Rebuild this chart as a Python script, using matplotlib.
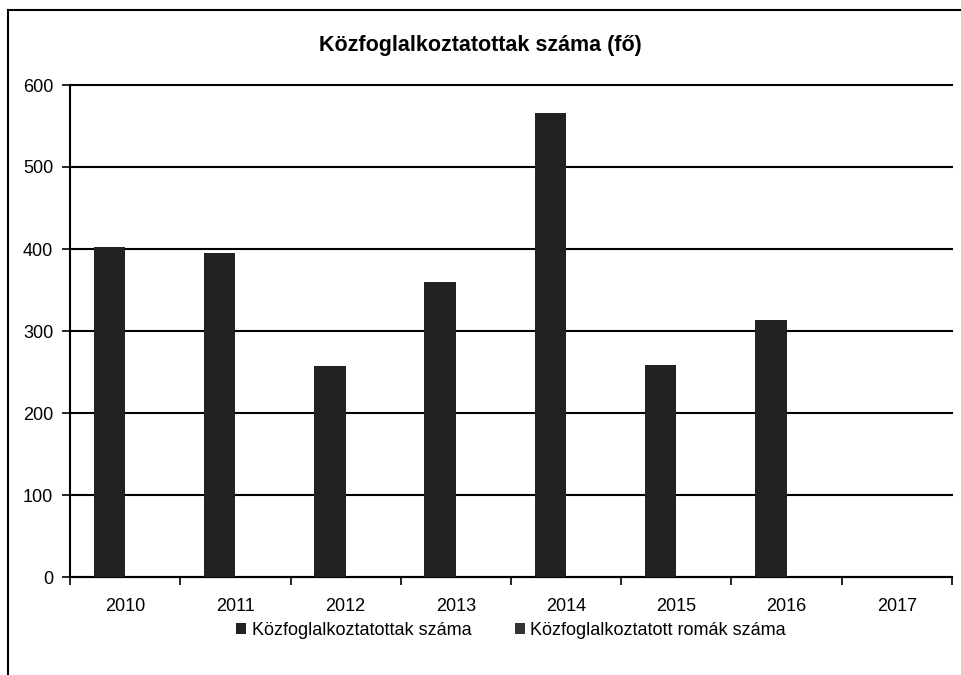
"""Közfoglalkoztatottak száma – clustered bar chart."""

import matplotlib

matplotlib.use("Agg")

import matplotlib.pyplot as plt
import numpy as np
from matplotlib.lines import Line2D

plt.rcParams["font.family"] = ["Liberation Sans", "DejaVu Sans"]

years = ["2010", "2011", "2012", "2013", "2014", "2015", "2016", "2017"]
kozfoglalkoztatottak = [402, 395, 257, 360, 566, 258, 314, np.nan]
romak = [np.nan] * 8
series_labels = ["Közfoglalkoztatottak száma", "Közfoglalkoztatott romák száma"]
title = "Közfoglalkoztatottak száma (fő)"
y_ticks = [0, 100, 200, 300, 400, 500, 600]

fig = plt.figure(figsize=(9.61, 6.75), dpi=100)
ax = fig.add_axes([70 / 961, 98 / 675, 882 / 961, 492 / 675])

x = np.arange(len(years))
w = 1 / 3.5
ax.bar(x - w / 2, kozfoglalkoztatottak, width=w, color="#222222", linewidth=0,
       label=series_labels[0], zorder=3)
ax.bar(x + w / 2, romak, width=w, color="#333333", linewidth=0,
       label=series_labels[1], zorder=3)

ax.set_xlim(-0.5, len(years) - 0.5)
ax.set_ylim(0, 600)
ax.set_yticks(y_ticks)
ax.yaxis.grid(True, color="black", linewidth=1.5, zorder=1)
for gl in ax.get_ygridlines():
    gl.set_clip_on(False)

# category boundaries as major ticks, labels on minor ticks at centres
ax.set_xticks(np.arange(-0.5, len(years), 1.0))
ax.set_xticklabels([])
ax.set_xticks(x, minor=True)
ax.set_xticklabels(years, minor=True)
ax.tick_params(axis="x", which="major", length=6, width=1.2, direction="out")
ax.tick_params(axis="x", which="minor", length=0, pad=15, labelsize=13)
ax.tick_params(axis="y", length=6, width=1.2, direction="out", pad=6, labelsize=13)

for side in ("top", "right"):
    ax.spines[side].set_visible(False)
for side in ("left", "bottom"):
    ax.spines[side].set_linewidth(1.5)

fig.text(0.5, 1 - 45 / 675, title, ha="center", va="center",
         fontsize=15.5, fontweight="bold")

ax.legend(loc="center", bbox_to_anchor=(0.5, -0.108), ncol=2, frameon=False,
          fontsize=13, handlelength=0.55, handleheight=0.55, handletextpad=0.3,
          columnspacing=2.4)

# scanned border: only left and top edges visible
fig.add_artist(Line2D([8 / 961, 8 / 961], [0, 1 - 10 / 675], color="black",
                      linewidth=1.5, transform=fig.transFigure))
fig.add_artist(Line2D([8 / 961, 1], [1 - 10 / 675, 1 - 10 / 675], color="black",
                      linewidth=1.5, transform=fig.transFigure))

fig.savefig("out.png", dpi=100, facecolor="white")
